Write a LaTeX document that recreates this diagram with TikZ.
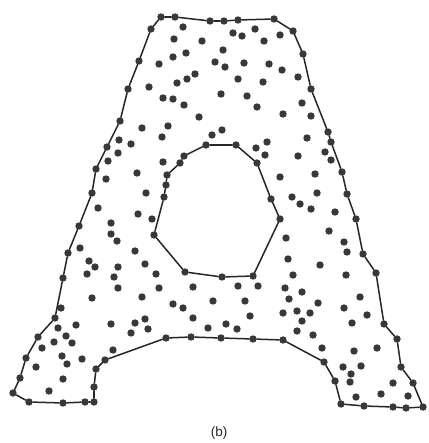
\documentclass[tikz,border=0pt]{standalone}
\usepackage{fontspec}
\setmainfont{Liberation Sans}
\definecolor{dotc}{HTML}{383838}
\definecolor{linec}{HTML}{262626}
\tikzset{
  dot/.style={circle, fill=dotc, draw=none, inner sep=0pt, minimum size=7.4pt},
  edge/.style={line width=1.5pt, draw=linec, line cap=round}
}
\begin{document}
\begin{tikzpicture}[x=1pt,y=-1pt]
\useasboundingbox (0,0) rectangle (428,443);
\fill[white] (0,0) rectangle (428,443);
% outer boundary vertices
\foreach \x/\y [count=\i] in {161/17,175/17,210/21,224/21,238/20,274/19,293/31,303/54,311/89,328/132,331/142,342/172,347/194,356/219,363/254,376/273,384/324,397/339,401/367,413/383,423/407,406/408,393/407,364/406,341/404,335/381,324/362,283/340,253/339,221/338,191/337,166/338,105/360,96/369,94/387,94/402,85/402,63/403,29/402,13/393,20/378,26/358,38/337,55/318,63/278,68/253,79/226,92/193,96/169,107/147,120/121,128/89,139/61,151/29}
  \node[dot] (o\i) at (\x,\y) {};
% inner hole vertices
\foreach \x/\y [count=\i] in {206/145,236/145,257/163,271/199,280/219,253/276,222/277,185/272,154/235,164/197,166/185,167/175,180/163,184/156}
  \node[dot] (h\i) at (\x,\y) {};
% interior points
\foreach \x/\y [count=\i] in {183/27,174/39,202/41,186/53,173/57,159/64,215/62,195/74,187/79,177/83,149/87,163/98,173/99,184/105,199/117,142/128,168/126,162/137,212/135,
233/33,242/36,255/29,264/41,280/35,223/50,225/67,244/63,269/64,282/70,238/79,263/82,298/77,221/94,247/96,302/103,257/107,283/114,311/116,222/130,307/138,267/142,
119/140,131/144,118/153,108/161,163/162,137/173,106/179,146/193,98/208,138/214,152/219,111/223,111/234,117/241,80/248,135/251,89/261,95/267,87/274,118/267,145/264,114/277,156/274,
256/148,265/155,298/156,325/152,331/160,280/177,315/174,317/193,292/197,300/204,311/209,335/212,286/238,329/231,344/242,347/252,288/259,320/265,293/275,346/275,
92/298,118/288,142/297,159/288,193/287,173/304,183/308,193/318,213/301,208/328,111/324,135/323,145/319,148/329,131/333,76/325,58/328,66/336,72/343,54/342,42/348,62/356,67/364,82/359,36/367,113/350,63/379,49/391,61/308,
238/286,258/286,245/301,250/316,226/324,237/329,285/288,302/292,289/299,318/303,283/313,297/311,310/313,302/321,297/331,313/335,322/348,360/297,344/308,367/315,352/323,377/348,354/351,361/366,343/367,351/374,350/382,393/383,381/394,356/397,408/396}
  \node[dot] (d\i) at (\x,\y) {};
% outlines
\foreach \i [remember=\i as \j (initially 54)] in {1,...,54}
  \draw[edge] (o\j) -- (o\i);
\foreach \i [remember=\i as \j (initially 14)] in {1,...,14}
  \draw[edge] (h\j) -- (h\i);
\node[font=\fontsize{13.5}{16}\selectfont, text=linec] (lbl) at (219,433) {(b)};
\end{tikzpicture}
\end{document}
